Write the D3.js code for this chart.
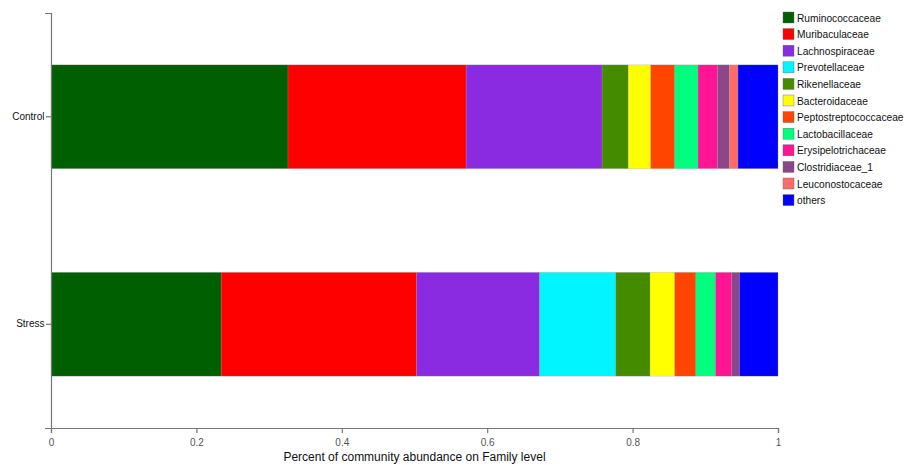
<!DOCTYPE html>
<html>
<head>
<meta charset="utf-8">
<script src="https://cdn.jsdelivr.net/npm/d3@7"></script>
<style>
  body { margin: 0; background: #fff; }
  svg { font-family: "Liberation Sans", Arial, sans-serif; }
</style>
</head>
<body>
<svg id="chart" width="906" height="465"></svg>
<script>
// groups on the y axis
var groups = ['Control', 'Stress'];

// families, in stacking / legend order
var families = ['Ruminococcaceae', 'Muribaculaceae', 'Lachnospiraceae', 'Prevotellaceae',
  'Rikenellaceae', 'Bacteroidaceae', 'Peptostreptococcaceae', 'Lactobacillaceae',
  'Erysipelotrichaceae', 'Clostridiaceae_1', 'Leuconostocaceae', 'others'];

var familyColors = ['#005f00', '#ff0000', '#8a2be2', '#00f5ff', '#458b00', '#ffff00',
  '#ff4500', '#00ff7f', '#ff1493', '#8b4789', '#ff6a6a', '#0000ff'];

// relative abundance per family (same order as families)
var controlValues = [0.326, 0.245, 0.187, 0.000, 0.036, 0.031, 0.033, 0.032, 0.027, 0.016, 0.012, 0.055];
var stressValues  = [0.234, 0.269, 0.169, 0.105, 0.047, 0.034, 0.029, 0.027, 0.022, 0.011, 0.000, 0.053];

var xTicks = [0, 0.2, 0.4, 0.6, 0.8, 1];

var svg = d3.select('#chart');
var margin = {left: 51, right: 128, top: 13, bottom: 37};
var width = 906 - margin.left - margin.right;
var height = 465 - margin.top - margin.bottom;

var x = d3.scaleLinear().domain([0, 1]).range([margin.left, margin.left + width]);
var y = d3.scaleBand().domain(groups)
  .range([margin.top, margin.top + height])
  .paddingInner(0.5).paddingOuter(0.25);
var color = d3.scaleOrdinal().domain(families).range(familyColors);

var rows = [controlValues, stressValues].map(function(vals, i) {
  var r = {group: groups[i]};
  families.forEach(function(f, j) { r[f] = vals[j]; });
  return r;
});

var series = d3.stack().keys(families)(rows);

svg.append('g').selectAll('g')
  .data(series)
  .join('g')
    .attr('fill', function(d) { return color(d.key); })
  .selectAll('rect')
  .data(function(d) { return d; })
  .join('rect')
    .attr('x', function(d) { return x(d[0]); })
    .attr('y', function(d) { return y(d.data.group); })
    .attr('width', function(d) { return Math.max(0, x(d[1]) - x(d[0])); })
    .attr('height', y.bandwidth())
    .attr('stroke', '#999')
    .attr('stroke-opacity', 0.6)
    .attr('stroke-width', 0.4);

// axes
var xAxis = svg.append('g')
  .attr('transform', 'translate(0,' + (margin.top + height) + ')')
  .call(d3.axisBottom(x).tickValues(xTicks).tickSize(5).tickPadding(6).tickFormat(d3.format('')));

var yAxis = svg.append('g')
  .attr('transform', 'translate(' + margin.left + ',0)')
  .call(d3.axisLeft(y).tickSize(5).tickSizeOuter(6));

[xAxis, yAxis].forEach(function(a) {
  a.selectAll('path, line').attr('stroke', '#777').attr('stroke-width', 1.2);
  a.selectAll('text').attr('fill', '#111').style('font-size', '10px');
});
xAxis.selectAll('text').attr('fill', '#555');
yAxis.selectAll('text').attr('x', -6.5);

svg.append('text')
  .attr('x', x(0.5))
  .attr('y', 461)
  .attr('text-anchor', 'middle')
  .style('font-size', '12px')
  .attr('fill', '#111')
  .text('Percent of community abundance on Family level');

// legend
var legend = svg.append('g')
  .attr('transform', 'translate(783,12)');

var item = legend.selectAll('g')
  .data(families)
  .join('g')
    .attr('transform', function(d, i) { return 'translate(0,' + (i * 16.6) + ')'; });

item.append('rect')
  .attr('width', 11)
  .attr('height', 11)
  .attr('fill', function(d) { return color(d); })
  .attr('stroke', '#666')
  .attr('stroke-width', 0.4);

item.append('text')
  .attr('x', 14)
  .attr('y', 9.5)
  .style('font-size', '10.2px')
  .attr('fill', '#111')
  .text(function(d) { return d; });
</script>
</body>
</html>
